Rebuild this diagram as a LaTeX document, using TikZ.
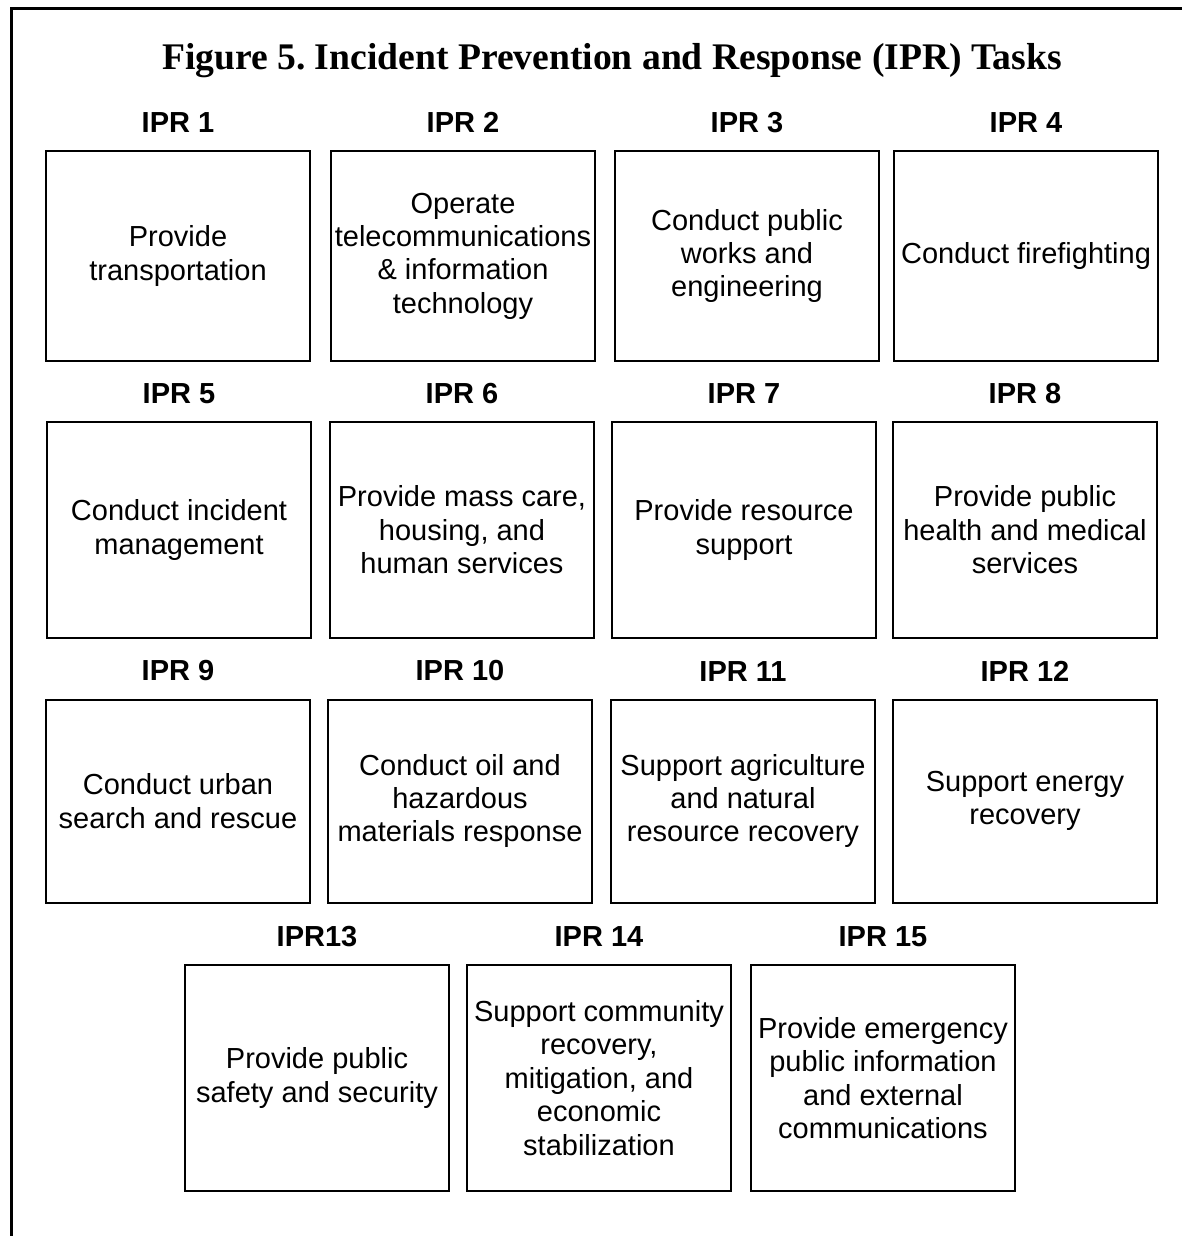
\documentclass[tikz,border=0pt]{standalone}
\usepackage{fontspec}
\setmainfont{Liberation Serif}
\setsansfont{Liberation Sans}
\usetikzlibrary{positioning}
\frenchspacing

\tikzset{
  task/.style={draw, line width=1pt, minimum width=132pt, inner sep=1pt, align=center,
    font=\sffamily\fontsize{14.5pt}{16.7pt}\selectfont},
  tasklabel/.style={inner sep=0pt, font=\sffamily\bfseries\fontsize{14.5pt}{16.7pt}\selectfont},
  rowone/.style={minimum height=105pt},
  rowtwo/.style={minimum height=108pt},
  rowthree/.style={minimum height=101.5pt},
  rowfour/.style={minimum height=113pt}
}

\begin{document}
\begin{tikzpicture}[x=0.5pt, y=-0.5pt]
  \useasboundingbox (0,0) rectangle (1182,1236);

  % Frame
  \coordinate (framebl) at (11,1236);
  \coordinate (frametl) at (11,9);
  \coordinate (frametr) at (1182,9);
  \draw[line width=1.5pt] (framebl) -- (frametl) -- (frametr);

  % Title
  \node[anchor=base, inner sep=0pt, font=\rmfamily\bfseries\fontsize{18.8pt}{22pt}\selectfont] (title) at (612,70)
    {Figure 5. Incident Prevention and Response (IPR) Tasks};

  % Row 1
  \node[task, rowone] (ipr1) at (178,256) {Provide\\transportation};
  \node[task, rowone] (ipr2) at (463,256) {Operate\\telecommunications\\\& information\\technology};
  \node[task, rowone] (ipr3) at (747,256) {Conduct public\\works and\\engineering};
  \node[task, rowone] (ipr4) at (1026,256) {Conduct firefighting};

  % Row 2
  \node[task, rowtwo] (ipr5) at (179,530) {Conduct incident\\management};
  \node[task, rowtwo] (ipr6) at (462,530) {Provide mass care,\\housing, and\\human services};
  \node[task, rowtwo] (ipr7) at (744,530) {Provide resource\\support};
  \node[task, rowtwo] (ipr8) at (1025,530) {Provide public\\health and medical\\services};

  % Row 3
  \node[task, rowthree] (ipr9) at (178,801) {Conduct urban\\search and rescue};
  \node[task, rowthree] (ipr10) at (460,801) {Conduct oil and\\hazardous\\materials response};
  \node[task, rowthree] (ipr11) at (743,801) {Support agriculture\\and natural\\resource recovery};
  \node[task, rowthree] (ipr12) at (1025,801) {Support energy\\recovery};

  % Row 4
  \node[task, rowfour] (ipr13) at (317,1078) {Provide public\\safety and security};
  \node[task, rowfour] (ipr14) at (599,1078) {Support community\\recovery,\\mitigation, and\\economic\\stabilization};
  \node[task, rowfour] (ipr15) at (883,1078) {Provide emergency\\public information\\and external\\communications};

  % Labels
  \node[tasklabel, above=8.5pt of ipr1] (lbl1) {IPR 1};
  \node[tasklabel, above=8.5pt of ipr2] (lbl2) {IPR 2};
  \node[tasklabel, above=8.5pt of ipr3] (lbl3) {IPR 3};
  \node[tasklabel, above=8.5pt of ipr4] (lbl4) {IPR 4};
  \node[tasklabel, above=8.5pt of ipr5] (lbl5) {IPR 5};
  \node[tasklabel, above=8.5pt of ipr6] (lbl6) {IPR 6};
  \node[tasklabel, above=8.5pt of ipr7] (lbl7) {IPR 7};
  \node[tasklabel, above=8.5pt of ipr8] (lbl8) {IPR 8};
  \node[tasklabel, above=8.5pt of ipr9] (lbl9) {IPR 9};
  \node[tasklabel, above=8.5pt of ipr10] (lbl10) {IPR 10};
  \node[tasklabel, above=8.5pt of ipr11] (lbl11) {IPR 11};
  \node[tasklabel, above=8.5pt of ipr12] (lbl12) {IPR 12};
  \node[tasklabel, above=8.5pt of ipr13] (lbl13) {IPR13};
  \node[tasklabel, above=8.5pt of ipr14] (lbl14) {IPR 14};
  \node[tasklabel, above=8.5pt of ipr15] (lbl15) {IPR 15};
\end{tikzpicture}
\end{document}
